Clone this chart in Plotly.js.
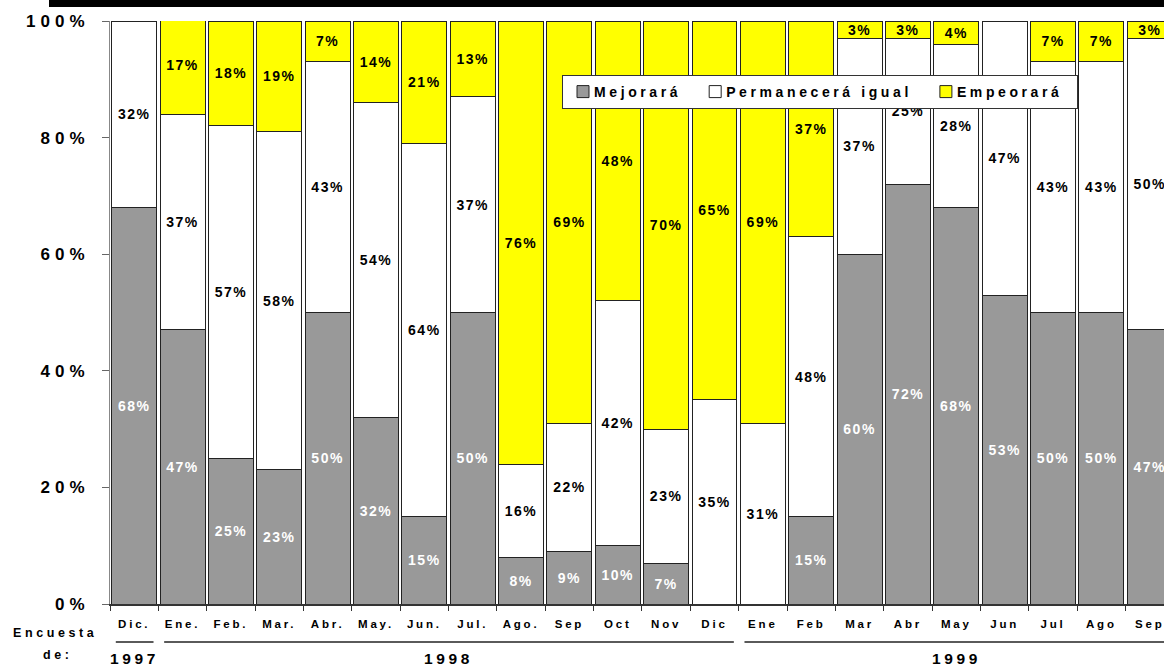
<!DOCTYPE html>
<html>
<head>
<meta charset="utf-8">
<script src="https://cdn.plot.ly/plotly-3.0.1.min.js"></script>
<style>
  html, body { margin: 0; padding: 0; background: #fff; overflow: hidden; }
  #chart { width: 1164px; height: 667px; }
  g.ytick text, text.ytick { letter-spacing: 5px; }
  g.xtick text, text.xtick { letter-spacing: 2.8px; }
  text.legendtext { letter-spacing: 3.6px; transform: translateX(-9px); }
  text.bartext { letter-spacing: 1.5px; }
  text.annotation-text { letter-spacing: 3.6px; }
</style>
</head>
<body>
<div id="chart"></div>
<script>
// ---- data ----
const months = ['Dic.','Ene.','Feb.','Mar.','Abr.','May.','Jun.','Jul.','Ago.','Sep','Oct','Nov','Dic',
                'Ene','Feb','Mar','Abr','May','Jun','Jul','Ago','Sep'];
const years  = ['1997',
                '1998','1998','1998','1998','1998','1998','1998','1998','1998','1998','1998','1998',
                '1999','1999','1999','1999','1999','1999','1999','1999','1999'];
const mejorara    = [68,47,25,23,50,32,15,50, 8, 9,10, 7, 0, 0,15,60,72,68,53,50,50,47];
const permanecera = [32,37,57,58,43,54,64,37,16,22,42,23,35,31,48,37,25,28,47,43,43,50];
const empeorara   = [ 0,17,18,19, 7,14,21,13,76,69,48,70,65,69,37, 3, 3, 4, 0, 7, 7, 3];
const seriesNames = ['Mejorará','Permanecerá igual','Empeorará'];
const yTicks = [0,20,40,60,80,100];
const yTickText = ['0%','20%','40%','60%','80%','100%'];

// ---- layout constants ----
const W = 1164, H = 667;
const ML = 110, MR = 0, MT = 21, MB = 63;
const PW = W - ML - MR, PH = H - MT - MB;
const px2x = px => (px - ML) / PW;
const px2y = py => (H - MB - py) / PH;

const FONT = 'Liberation Sans, Arial, Helvetica, sans-serif';
const cats = months.map((m, i) => m + ' ' + years[i] + ' #' + i);
const GRAY = '#999999', YELLOW = '#FFFF00';

function lbl(arr) { return arr.map(v => v > 0 ? v + '%' : ''); }

function barTrace(name, vals, color, textColor) {
  return {
    type: 'bar', name: name, x: cats, y: vals,
    marker: { color: color, line: { color: '#222222', width: 1 } },
    text: lbl(vals), textposition: 'inside', insidetextanchor: 'middle',
    textangle: 0, constraintext: 'none',
    textfont: { family: FONT, size: 14, color: textColor, weight: 'bold' },
    hoverinfo: 'name+y'
  };
}

const data = [
  barTrace(seriesNames[0], mejorara, GRAY, '#FFFFFF'),
  barTrace(seriesNames[1], permanecera, '#FFFFFF', '#000000'),
  barTrace(seriesNames[2], empeorara, YELLOW, '#000000')
];

// year groups
const groups = [];
years.forEach((y, i) => {
  const g = groups[groups.length - 1];
  if (g && g.year === y) g.end = i; else groups.push({ year: y, start: i, end: i });
});

const shapes = [
  { type: 'rect', xref: 'paper', yref: 'paper', x0: px2x(49), x1: px2x(1164), y0: px2y(7), y1: px2y(0),
    fillcolor: '#000000', line: { width: 0 } }
];
const annotations = [
  { xref: 'paper', yref: 'paper', x: px2x(55), y: px2y(633), text: 'Encuesta', showarrow: false,
    xanchor: 'center', yanchor: 'middle', font: { family: FONT, size: 12.5, color: '#000', weight: 'bold' } },
  { xref: 'paper', yref: 'paper', x: px2x(57.5), y: px2y(655), text: 'de:', showarrow: false,
    xanchor: 'center', yanchor: 'middle', font: { family: FONT, size: 12.5, color: '#000', weight: 'bold' } }
];
groups.forEach((g, k) => {
  shapes.push({ type: 'line', xref: 'x', yref: 'paper',
    x0: g.start - 0.38, x1: (k === groups.length - 1) ? g.end + 2 : g.end + 0.4,
    y0: px2y(642), y1: px2y(642), line: { color: '#5a5a5a', width: 2 } });
  annotations.push({ xref: 'x', yref: 'paper', x: (g.start + g.end) / 2, y: px2y(658.5),
    text: g.year, showarrow: false, xanchor: 'center', yanchor: 'middle',
    font: { family: FONT, size: 15.5, color: '#000', weight: 'bold' } });
});

const layout = {
  width: W, height: H,
  margin: { l: ML, r: MR, t: MT, b: MB, pad: 0 },
  paper_bgcolor: '#fff', plot_bgcolor: '#fff',
  barmode: 'stack', bargap: 0.07,
  showlegend: true,
  legend: {
    orientation: 'h', traceorder: 'normal',
    x: px2x(562), y: px2y(75), xanchor: 'left', yanchor: 'top',
    bgcolor: '#FFFFFF', bordercolor: '#333333', borderwidth: 1,
    font: { family: FONT, size: 14, color: '#000', weight: 'bold' }
  },
  xaxis: {
    type: 'category', range: [-0.5, -0.5 + PW / 48.36], autorange: false,
    tickmode: 'array', tickvals: cats, ticktext: months,
    tickson: 'boundaries', ticks: 'outside', ticklen: 5, tickcolor: '#333',
    showline: true, linecolor: '#333', linewidth: 1.5,
    showgrid: false, zeroline: false, fixedrange: true,
    tickfont: { family: FONT, size: 11.5, color: '#000', weight: 'bold' },
    ticklabelstandoff: 9
  },
  yaxis: {
    range: [0, 100], autorange: false,
    tickmode: 'array', tickvals: yTicks, ticktext: yTickText,
    ticks: 'outside', ticklen: 7, tickcolor: '#666',
    showline: true, linecolor: '#888', linewidth: 1,
    showgrid: false, zeroline: false, fixedrange: true,
    tickfont: { family: FONT, size: 17, color: '#000', weight: 'bold' },
    ticklabelstandoff: 9
  },
  shapes: shapes,
  annotations: annotations
};

Plotly.newPlot('chart', data, layout, { displayModeBar: false, staticPlot: true });
</script>
</body>
</html>
